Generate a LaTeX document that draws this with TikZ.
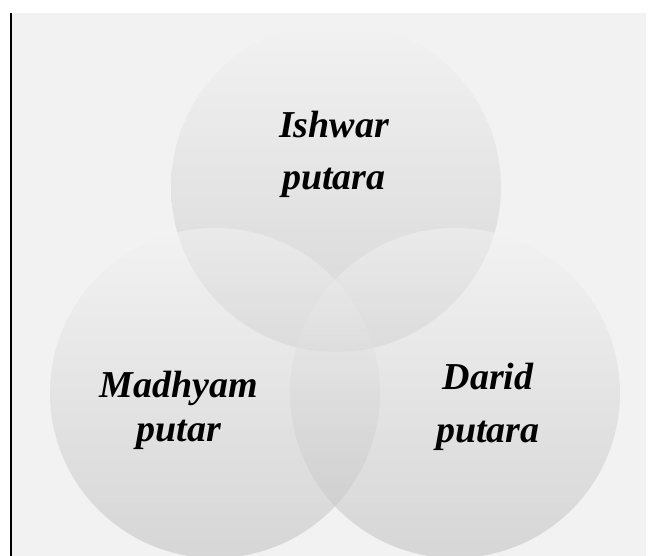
\documentclass[tikz,border=0pt]{standalone}
\usepackage{fontspec}
\setmainfont{Liberation Serif}
\begin{document}
\begin{tikzpicture}[x=1bp,y=-1bp,
  bubble/.style={top color=c1,bottom color=c2,fill opacity=0.55,draw=none},
  lbl/.style={font=\fontsize{38bp}{52bp}\selectfont\bfseries\itshape,align=center,anchor=base,inner sep=0pt}]
\definecolor{c1}{HTML}{F3F3F3}
\definecolor{c2}{HTML}{C0C0C0}
\definecolor{bg}{HTML}{F2F2F2}
\useasboundingbox (0,0) rectangle (648,556);
\fill[white] (0,0) rectangle (648,556);
\fill[bg] (11,13) rectangle (646,556);
\draw[line width=1.4bp] (11,13) -- (11,556);
\path[bubble] (336,187) circle (165bp);
\path[bubble] (215,393) circle (165bp);
\path[bubble] (455,393) circle (165bp);
\node[lbl] (ish) at (334,190) {Ishwar\\putara};
\node[lbl,font=\fontsize{38bp}{44bp}\selectfont\bfseries\itshape] (mad) at (179,441) {Madhyam\\putar};
\node[lbl,font=\fontsize{38bp}{53bp}\selectfont\bfseries\itshape] (dar) at (488,442) {Darid\\putara};
\end{tikzpicture}
\end{document}
